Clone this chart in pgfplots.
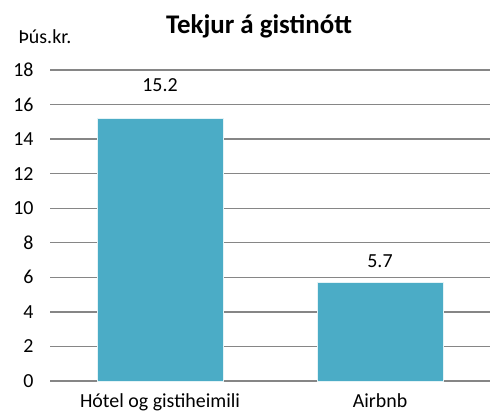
\documentclass[border=0pt]{standalone}
\usepackage{pgfplots}
\pgfplotsset{compat=1.18}
\usepackage{fontspec}
\setmainfont{Carlito}
\definecolor{barblue}{HTML}{4BACC6}
\definecolor{gridgray}{HTML}{868686}

\begin{document}
\begin{tikzpicture}
\useasboundingbox (0,0) rectangle (491bp,412bp);
\begin{axis}[
  at={(50bp,31bp)},anchor=south west,
  scale only axis,width=440bp,height=311bp,
  xmin=-0.5,xmax=1.5,ymin=0,ymax=18,
  ytick={0,2,...,18},
  xtick={0,1},xticklabels={Hótel og gistiheimili,Airbnb},
  axis line style={draw=none},
  major tick length=0pt,
  ymajorgrids,major grid style={gridgray,line width=1.4pt},
  tick label style={font=\fontsize{20}{22}\selectfont},
  /pgf/number format/assume math mode=true,
  yticklabel style={xshift=-13bp},
  xticklabel style={yshift=-9bp},
  clip=false,
]
\addplot[ybar,bar width=126bp,bar shift=0pt,fill=barblue,draw=white!85!barblue,line width=0.6pt,
  nodes near coords,every node near coord/.append style={font=\fontsize{20}{22}\selectfont,yshift=23bp}]
  coordinates {(0,15.2)};
\addplot[ybar,bar width=126bp,bar shift=0pt,fill=barblue,draw=white!85!barblue,line width=0.6pt,
  nodes near coords,every node near coord/.append style={font=\fontsize{20}{22}\selectfont,yshift=11bp}]
  coordinates {(1,5.7)};
\end{axis}
\node[font=\bfseries\fontsize{27}{30}\selectfont] at (259bp,386bp) {Tekjur á gistinótt};
\node[font=\fontsize{20}{22}\selectfont] at (45bp,375bp) {Þús.kr.};
\end{tikzpicture}
\end{document}
